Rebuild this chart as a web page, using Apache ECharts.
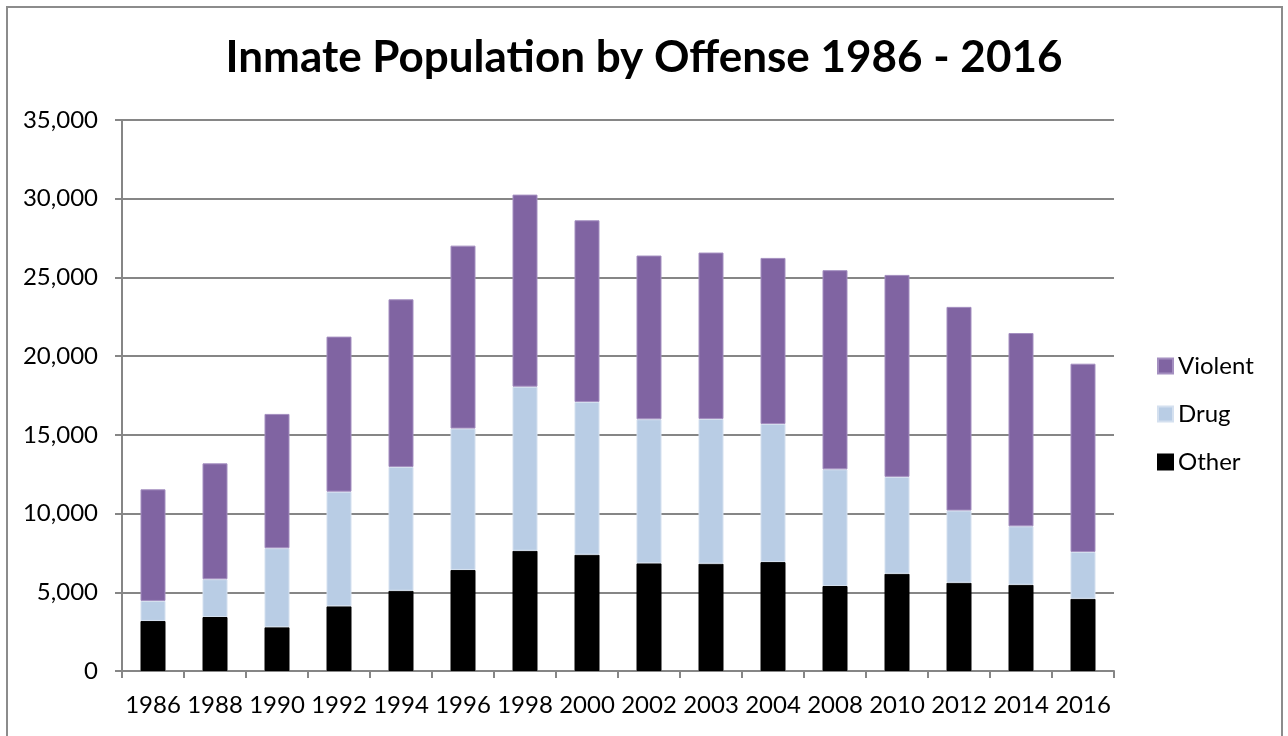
<!DOCTYPE html>
<html>
<head>
<meta charset="utf-8">
<script src="https://cdn.jsdelivr.net/npm/echarts@6/dist/echarts.min.js"></script>
<style>
	html, body { margin: 0; padding: 0; background: #fff; }
	#chart { width: 1288px; height: 736px; }
</style>
</head>
<body>
<div id="chart"></div>
<script>
var years = ['1986','1988','1990','1992','1994','1996','1998','2000','2002','2003','2004','2008','2010','2012','2014','2016'];
var other = [3180, 3430, 2780, 4110, 5100, 6420, 7640, 7390, 6840, 6820, 6920, 5400, 6180, 5610, 5480, 4590];
var drug = [1270, 2400, 5020, 7280, 7860, 8980, 10420, 9700, 9150, 9190, 8770, 7410, 6150, 4580, 3710, 2970];
var violent = [7090, 7360, 8530, 9850, 10650, 11620, 12200, 11540, 10400, 10570, 10550, 12650, 12830, 12940, 12280, 11960];

window.onload = function() {
	var font = 'Lato, "Open Sans", sans-serif';
	var myChart = echarts.init(document.getElementById('chart'));
	var barStyle = function(c, b) {
		return { color: c, borderColor: b, borderWidth: 1 };
	};
	var option = {
		animation: false,
		title: {
			text: 'Inmate Population by Offense 1986 - 2016',
			left: 'center',
			top: 31,
			textStyle: { fontFamily: font, fontSize: 44, fontWeight: 'bold', color: '#000' }
		},
		graphic: [{
			type: 'rect',
			shape: { x: 7, y: 7, width: 1275, height: 760 },
			style: { fill: 'none', stroke: '#8c8c8c', lineWidth: 2 }
		}],
		legend: {
			orient: 'vertical',
			left: 1152,
			top: 349,
			itemWidth: 15,
			itemHeight: 15,
			itemGap: 24,
			icon: 'rect',
			data: ['Violent', 'Drug', 'Other'],
			textStyle: { fontFamily: font, fontSize: 24, color: '#000' }
		},
		grid: { left: 122, right: 174, top: 120, bottom: 65 },
		xAxis: {
			type: 'category',
			data: years,
			axisLine: { lineStyle: { color: '#868686', width: 2 } },
			axisTick: { show: true, alignWithLabel: false, length: 7, lineStyle: { color: '#868686', width: 2 } },
			axisLabel: { fontFamily: font, fontSize: 24, color: '#000', margin: 22, interval: 0 }
		},
		yAxis: {
			type: 'value',
			min: 0,
			max: 35000,
			interval: 5000,
			axisLine: { show: true, lineStyle: { color: '#868686', width: 2 } },
			axisTick: { show: true, length: 7, lineStyle: { color: '#868686', width: 2 } },
			splitLine: { lineStyle: { color: '#868686', width: 2 } },
			axisLabel: {
				fontFamily: font, fontSize: 24, color: '#000', margin: 24,
				formatter: function(v) { return v.toLocaleString('en-US'); }
			}
		},
		series: [
			{ name: 'Other', type: 'bar', stack: 'a', barWidth: 25, data: other, itemStyle: barStyle('#000000', '#000000') },
			{ name: 'Drug', type: 'bar', stack: 'a', barWidth: 25, data: drug, itemStyle: barStyle('#b9cde5', '#d4e0ef') },
			{ name: 'Violent', type: 'bar', stack: 'a', barWidth: 25, data: violent, itemStyle: barStyle('#8064a2', '#a48fc0') }
		]
	};
	myChart.setOption(option);
};
</script>
</body>
</html>
